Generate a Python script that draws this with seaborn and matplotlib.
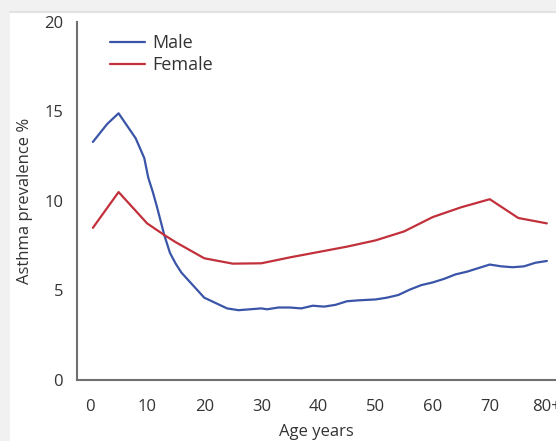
import numpy as np
import pandas as pd
import matplotlib.pyplot as plt
import seaborn as sns
from matplotlib.patches import Rectangle

# Datos
male_age = [0.5, 3, 5, 6.5, 8, 9.5, 10.2, 11, 11.7, 13, 14, 15, 16, 18, 20, 22, 24, 26,
            28, 30, 31, 33, 35, 37, 39, 41, 43, 45, 47, 50, 52, 54, 56, 58, 60, 62,
            64, 66, 68, 70, 72, 74, 76, 78, 80]
male_prev = [13.3, 14.3, 14.9, 14.2, 13.5, 12.4, 11.3, 10.5, 9.7, 8.1, 7.1, 6.5, 6.0,
             5.3, 4.6, 4.3, 4.0, 3.9, 3.95, 4.0, 3.95, 4.05, 4.05, 4.0, 4.15, 4.1,
             4.2, 4.4, 4.45, 4.5, 4.6, 4.75, 5.05, 5.3, 5.45, 5.65, 5.9, 6.05, 6.25,
             6.45, 6.35, 6.3, 6.35, 6.55, 6.65]

female_age = [0.5, 5, 10, 13, 15, 20, 25, 30, 35, 40, 45, 50, 55, 60, 65, 70, 75, 80]
female_prev = [8.5, 10.5, 8.75, 8.1, 7.7, 6.8, 6.5, 6.52, 6.85, 7.15, 7.45, 7.8, 8.3,
               9.1, 9.65, 10.1, 9.05, 8.75]

x_ticks = [0, 10, 20, 30, 40, 50, 60, 70, 80]
x_labels = ['0', '10', '20', '30', '40', '50', '60', '70', '80+']
y_ticks = [0, 5, 10, 15, 20]

df = pd.concat([
    pd.DataFrame({'age': male_age, 'prev': male_prev, 'sex': 'Male'}),
    pd.DataFrame({'age': female_age, 'prev': female_prev, 'sex': 'Female'}),
])

sns.set_style('white')
plt.rcParams['font.family'] = ['Open Sans', 'DejaVu Sans']

fig = plt.figure(figsize=(5.56, 4.41), dpi=100, facecolor='#f1f1f1')
# fondo blanco con borde gris arriba y a la izquierda
fig.add_artist(Rectangle((10 / 556, 0), 1, (441 - 12) / 441,
                         transform=fig.transFigure, facecolor='white',
                         edgecolor='none', zorder=-10))
fig.add_artist(plt.Line2D([10 / 556, 1], [(441 - 12) / 441] * 2,
                          transform=fig.transFigure, color='#e2e2e2', lw=1.5,
                          zorder=-9))

ax = fig.add_axes([77 / 556, (441 - 380) / 441, (556 - 77) / 556, 358 / 441])
ax.set_zorder(5)
ax.set_facecolor('none')

sns.lineplot(data=df, x='age', y='prev', hue='sex', ax=ax,
             palette={'Male': '#3a55a8', 'Female': '#c2313b'}, lw=1.6,
             estimator=None, sort=False)

ax.set_xlim(-2.28, 81.6)
ax.set_ylim(0, 20)
ax.set_xticks(x_ticks)
ax.set_xticklabels(x_labels)
ax.set_yticks(y_ticks)

for s in ['top', 'right']:
    ax.spines[s].set_visible(False)
for s in ['left', 'bottom']:
    ax.spines[s].set_color('#707070')
    ax.spines[s].set_linewidth(1.5)

ax.tick_params(axis='both', direction='out', length=6, width=1.3, color='#707070',
               labelsize=12, labelcolor='#333333', pad=4)
ax.tick_params(axis='x', pad=8)

ax.set_xlabel('Age years', fontsize=12, color='#333333', labelpad=6)
ax.set_ylabel('Asthma prevalence %', fontsize=12, color='#333333', labelpad=8)

leg = ax.legend(loc='upper left', frameon=False, fontsize=13, handlelength=1.95,
                handletextpad=0.4, labelspacing=0.25, bbox_to_anchor=(0.035, 1.012))
for t in leg.get_texts():
    t.set_color('#333333')

plt.savefig('out.png', dpi=100, facecolor=fig.get_facecolor())
plt.close()
